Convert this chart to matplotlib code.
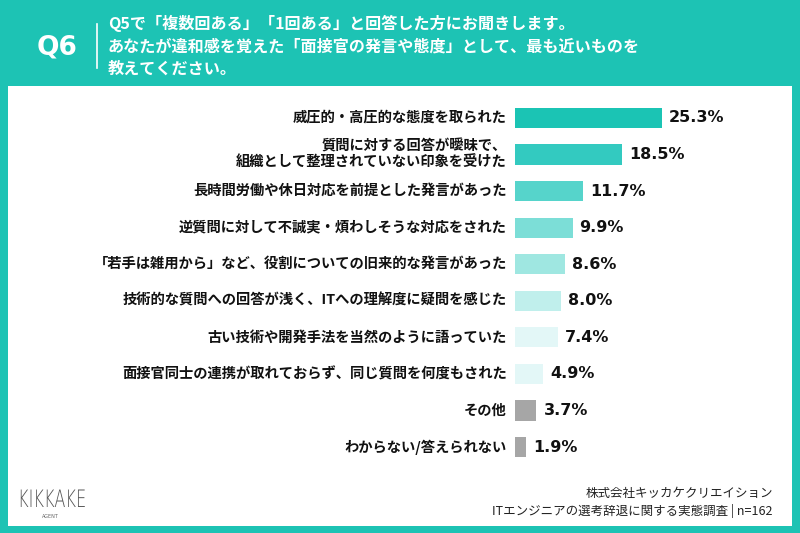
import matplotlib.pyplot as plt
from matplotlib.patches import Rectangle, PathPatch
from matplotlib.lines import Line2D
from matplotlib.textpath import TextPath
from matplotlib.font_manager import FontProperties
from matplotlib.transforms import Affine2D

plt.rcParams['font.family'] = ['Noto Sans CJK JP', 'DejaVu Sans']

# データ
etiquetas = [
    "威圧的・高圧的な態度を取られた",
    "質問に対する回答が曖昧で、\n組織として整理されていない印象を受けた",
    "長時間労働や休日対応を前提とした発言があった",
    "逆質問に対して不誠実・煩わしそうな対応をされた",
    "「若手は雑用から」など、役割についての旧来的な発言があった",
    "技術的な質問への回答が浅く、ITへの理解度に疑問を感じた",
    "古い技術や開発手法を当然のように語っていた",
    "面接官同士の連携が取れておらず、同じ質問を何度もされた",
    "その他",
    "わからない/答えられない",
]
valores = [25.3, 18.5, 11.7, 9.9, 8.6, 8.0, 7.4, 4.9, 3.7, 1.9]
colores = ["#1bc4b4", "#33cac0", "#56d4cb", "#7cded7", "#9fe7e1",
           "#c0efec", "#e3f7f7", "#e3f7f7", "#a6a6a6", "#a6a6a6"]

titulo = ("Q5で「複数回ある」「1回ある」と回答した方にお聞きします。\n"
          "あなたが違和感を覚えた「面接官の発言や態度」として、最も近いものを\n"
          "教えてください。")
teal = "#1dc3b4"

W, H = 800, 533
fig = plt.figure(figsize=(8, 5.33), dpi=100)
fig.patch.set_facecolor(teal)

# panel blanco
fig.add_artist(Rectangle((8 / W, 1 - 526 / H), 784 / W, (526 - 86) / H,
                         transform=fig.transFigure, facecolor="white",
                         edgecolor="none", zorder=0))

# encabezado
fig.text(57 / W, 1 - 47 / H, "Q6", color="white", fontsize=19,
         fontweight="bold", ha="center", va="center", family="DejaVu Sans")
fig.add_artist(Line2D([97 / W, 97 / W], [1 - 24 / H, 1 - 68 / H],
                      transform=fig.transFigure, color="white", lw=1.2))
fig.text(108 / W, 1 - 46 / H, titulo, color="white", fontsize=11.6,
         fontweight="bold", ha="left", va="center", linespacing=1.5)

# ejes de barras
px = 5.81
ax_left, ax_w = 515, 260
y_top, y_bot = 118 - 18.3, 447 + 18.3
ax = fig.add_axes([ax_left / W, 1 - y_bot / H, ax_w / W, (y_bot - y_top) / H])
ax.set_xlim(0, ax_w / px)
ax.set_ylim(len(valores) - 0.5, -0.5)
ax.axis("off")

pos = list(range(len(valores)))
ax.barh(pos, valores, height=0.55, color=colores, edgecolor="none")
for i, v in enumerate(valores):
    ax.text(v + 1.2, i, f"{v}%", va="center", ha="left", fontsize=11.5,
            fontweight="bold", color="#111111", family="DejaVu Sans")
    ax.text(-1.4, i, etiquetas[i], va="center", ha="right", fontsize=10.3,
            fontweight="bold", color="#111111", linespacing=1.15)

# logo (texto estrecho)
tp = TextPath((0, 0), "KIKKAKE", size=24,
              prop=FontProperties(family="DejaVu Sans", weight="light"))
ancho = tp.get_extents().width
tr = Affine2D().scale(64 / ancho, 1.0).translate(18, H - 507)
fig.add_artist(PathPatch(tr.transform_path(tp), facecolor="#555555",
                         edgecolor="none", transform=None))
fig.text(50 / W, 1 - 516 / H, "AGENT", color="#666666", fontsize=3.5,
         ha="center", va="center", family="DejaVu Sans")

# pie
fig.text(773 / W, 1 - 493 / H, "株式会社キッカケクリエイション", color="#222222",
         fontsize=9, ha="right", va="center")
fig.text(773 / W, 1 - 511 / H, "ITエンジニアの選考辞退に関する実態調査 | n=162",
         color="#222222", fontsize=9, ha="right", va="center")

fig.savefig("out.png", dpi=100, facecolor=fig.get_facecolor())
